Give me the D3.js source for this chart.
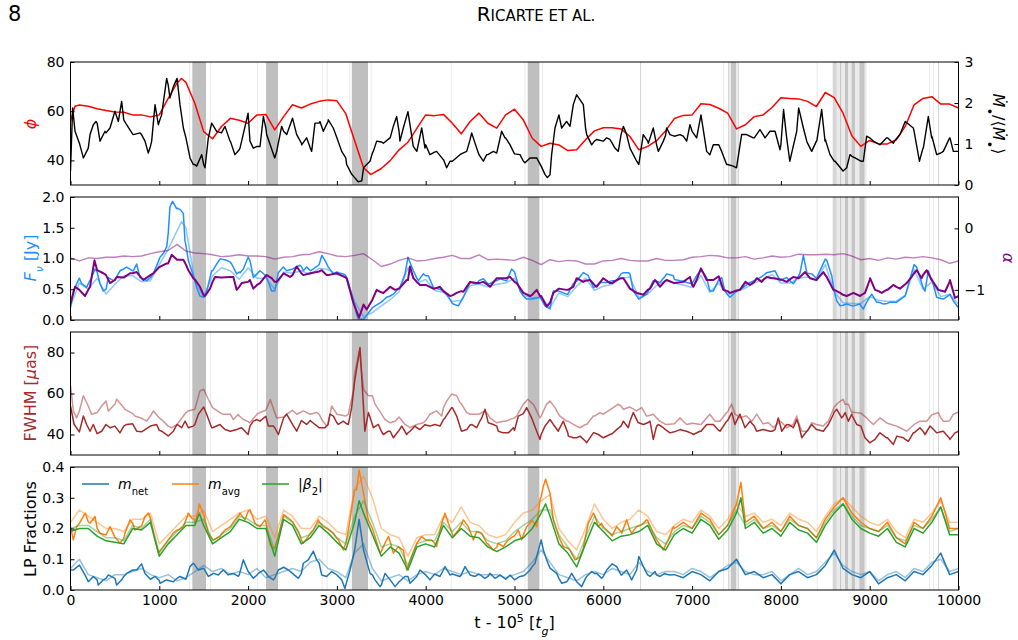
<!DOCTYPE html>
<html>
<head>
<meta charset="utf-8">
<script src="https://cdn.jsdelivr.net/npm/d3@7"></script>
<style>
  body { margin: 0; background: #fff; }
  svg text { font-family: "DejaVu Sans", sans-serif; }
</style>
</head>
<body>
<div id="chart"></div>
<script>
// sample times (t - 1e5, in t_g) every 100 t_g
const sampleTimes = d3.range(0, 10001, 100);

// Panel 1: phi (left, red) and Mdot / <Mdot> (right, black)
const phiVals = [56, 62.5, 62, 61, 60.3, 59.7, 59.6, 58.5, 58.5, 57.7,
  58.5, 65.2, 71.5, 71.7, 63.2, 51.7, 48.8, 53.8, 57.1, 56.3,
  55.1, 58.5, 58.7, 52.4, 57.8, 62.6, 61.3, 62.9, 64, 64.6,
  64.2, 59, 48, 37, 34.6, 36.7, 39.9, 44.3, 47.4, 53,
  58.5, 58.2, 58.7, 55.1, 50.8, 55.8, 59.2, 55.1, 53.1, 58.5,
  60.8, 56.4, 49, 45.7, 47, 46.3, 44, 44.3, 48.4, 52,
  53.3, 53.3, 52.8, 49.7, 44.3, 45.7, 48, 52, 57, 58.3,
  58.5, 63, 62.7, 61.2, 59.2, 52.8, 54.5, 57.8, 58.5, 61.5,
  65.5, 65.2, 65, 64, 61.9, 67.6, 65.5, 59.2, 49.9, 45.7,
  48.1, 46.7, 46.7, 48.4, 53.8, 62.6, 65.2, 65.9, 62.9, 62.9, 61.3];
const phiExtra = [[50, 62], [1250, 73.3], [3380, 34.3]];

const mdotVals = [0.34, 1.02, 0.90, 1.51, 1.27, 1.80, 1.59, 1.24, 1.23, 0.94,
  1.55, 2.44, 2.60, 1.15, 0.50, 0.50, 1.47, 1.27, 1.07, 0.86,
  1.75, 0.94, 1.39, 0.66, 1.31, 1.63, 1.02, 0.90, 1.51, 1.55,
  1.15, 0.66, 0.18, 0.42, 0.78, 1.05, 1.15, 1.31, 1.79, 0.82,
  0.98, 0.80, 0.62, 0.58, 0.76, 1.11, 0.74, 0.74, 0.78, 1.15,
  0.76, 0.58, 0.66, 0.46, 0.25, 1.71, 1.51, 2.20, 1.39, 1.07,
  1.07, 1.02, 1.23, 0.90, 0.50, 1.07, 0.98, 1.20, 1.19, 1.19,
  1.31, 1.71, 0.74, 0.98, 0.50, 0.42, 1.23, 1.15, 1.23, 1.31,
  0.98, 0.58, 1.88, 1.02, 1.07, 1.11, 0.58, 0.34, 0.70, 0.58,
  1.15, 1.00, 1.15, 1.13, 1.55, 1.31, 0.90, 1.19, 0.78, 1.15, 0.82];
const mdotExtra = [[24, 1.88], [51, 1.31], [145, 0.66], [182, 0.82], [220, 1.23], [257, 1.47], [287, 1.55],
  [332, 1.07], [389, 1.31], [445, 1.39], [539, 1.55], [576, 2.04], [632, 1.47], [708, 1.23], [783, 1.27],
  [839, 1.07], [876, 0.78], [914, 1.07], [952, 1.96], [989, 1.47], [1026, 1.71], [1083, 2.6], [1120, 2.12],
  [1158, 2.4], [1233, 1.96], [1271, 1.39], [1346, 0.66], [1383, 0.5], [1421, 0.46], [1477, 0.74], [1515, 0.42],
  [1552, 1.15], [1590, 1.51], [1646, 1.31], [1740, 1.43], [1796, 1.07], [1852, 0.74], [1909, 0.9], [2021, 1.07],
  [2059, 0.9], [2134, 0.94], [2172, 1.67], [2209, 1.23], [2322, 0.82], [2378, 1.43], [2435, 1.23], [2547, 1.23],
  [2603, 0.98], [2659, 1.15], [2716, 0.82], [2753, 1.51], [2809, 1.55], [2847, 1.31], [2903, 1.59], [2959, 1.39],
  [3054, 0.82], [3110, 0.5], [3167, 0.26], [3240, 0.08], [3280, 0.1], [3335, 0.5], [3373, 0.58], [3410, 0.82],
  [3448, 1.07], [3523, 1.02], [3598, 1.15], [3635, 1.43], [3673, 1.67], [3710, 1.07], [3748, 1.39], [3823, 1.47],
  [3860, 0.94], [3955, 1.39], [3992, 0.9], [4048, 0.74], [4123, 0.82], [4198, 0.62], [4236, 0.42], [4274, 0.58],
  [4386, 0.74], [4462, 0.82], [4518, 1.27], [4574, 0.9], [4649, 0.58], [4687, 0.74], [4762, 0.82], [4855, 1.31],
  [4893, 1.15], [4950, 0.98], [5062, 0.74], [5118, 0.54], [5175, 0.66], [5250, 0.66], [5343, 0.26], [5370, 0.18],
  [5418, 0.74], [5456, 1.39], [5531, 1.39], [5587, 1.55], [5625, 1.43], [5662, 1.96], [5775, 1.96], [5813, 1.23],
  [5869, 0.98], [5925, 1.11], [6038, 1.15], [6075, 1.11], [6131, 0.9], [6169, 0.82], [6226, 1.43], [6263, 1.23],
  [6376, 0.58], [6450, 1.23], [6507, 1.02], [6563, 1.39], [6620, 0.82], [6676, 1.07], [6714, 1.39], [6751, 1.23],
  [6864, 1.23], [6939, 1.07], [6976, 1.47], [7051, 1.15], [7164, 0.82], [7239, 0.98], [7333, 0.82], [7389, 0.5],
  [7464, 0.46], [7558, 1.23], [7614, 1.23], [7689, 1.15], [7764, 1.35], [7821, 1.15], [7877, 1.31], [7934, 1.31],
  [7990, 0.86], [8030, 1.84], [8065, 1.15], [8178, 1.31], [8253, 1.39], [8291, 1.07], [8347, 0.82], [8404, 1.07],
  [8459, 1.84], [8497, 1.07], [8553, 0.74], [8610, 0.58], [8741, 0.42], [8778, 0.74], [8835, 0.66], [8928, 0.58],
  [8966, 1.19], [9041, 1.07], [9116, 0.98], [9191, 1.15], [9266, 1.02], [9341, 1.23], [9491, 1.39], [9560, 0.58],
  [9604, 0.9], [9660, 1.67], [9698, 1.15], [9754, 0.74], [9829, 0.82], [9904, 1.15], [9942, 0.82]];

// Panel 2: F_nu (left, two blues) and alpha (right, two purples)
const fnuVals = [0.2, 0.68, 0.59, 0.78, 0.50, 0.65, 0.83, 0.80, 0.68, 0.69,
  0.99, 1.4, 1.82, 1.21, 0.64, 0.37, 0.80, 0.99, 0.94, 0.78,
  1.02, 0.75, 0.72, 0.47, 0.86, 0.83, 0.87, 0.80, 0.90, 0.87,
  0.78, 0.72, 0.26, 0.01, 0.20, 0.29, 0.39, 0.52, 1.02, 0.68,
  0.72, 0.52, 0.47, 0.27, 0.31, 0.61, 0.64, 0.59, 0.64, 0.64,
  0.78, 0.39, 0.34, 0.34, 0.18, 0.47, 0.42, 0.63, 0.75, 0.53,
  0.61, 0.64, 0.75, 0.75, 0.34, 0.45, 0.63, 0.72, 0.66, 0.63,
  0.59, 0.80, 0.47, 0.65, 0.41, 0.47, 0.56, 0.64, 0.72, 0.79,
  0.65, 0.64, 0.72, 0.76, 0.68, 0.99, 0.47, 0.24, 0.23, 0.23,
  0.37, 0.29, 0.27, 0.29, 0.39, 0.90, 0.53, 0.67, 0.35, 0.41, 0.20];
const fnuExtra = [[32, 0.47], [126, 0.59], [182, 0.53], [238, 0.69], [276, 0.83], [332, 0.59], [370, 0.47],
  [426, 0.69], [482, 0.64], [557, 0.8], [632, 0.86], [707, 0.8], [745, 0.91], [783, 0.69], [858, 0.64],
  [933, 0.75], [1008, 1.02], [1045, 1.08], [1083, 1.19], [1120, 1.84], [1150, 1.93], [1195, 1.81], [1240, 1.79],
  [1271, 1.73], [1289, 1.29], [1327, 0.97], [1365, 0.8], [1421, 0.53], [1458, 0.39], [1534, 0.47], [1590, 0.8],
  [1646, 0.91], [1684, 0.99], [1759, 0.97], [1815, 0.91], [1871, 0.75], [1909, 0.77], [1946, 0.83], [2021, 0.97],
  [2059, 0.69], [2134, 0.8], [2209, 0.69], [2265, 0.47], [2340, 0.77], [2397, 0.86], [2434, 0.8], [2584, 0.89],
  [2622, 0.8], [2659, 0.86], [2734, 0.83], [2791, 0.89], [2830, 1.05], [2866, 0.97], [2903, 0.86], [2960, 0.75],
  [3016, 0.77], [3072, 0.75], [3129, 0.61], [3185, 0.31], [3222, 0.09], [3240, 0.02], [3373, 0.15], [3485, 0.28],
  [3560, 0.37], [3635, 0.42], [3710, 0.53], [3767, 0.75], [3861, 0.8], [3917, 0.64], [3973, 0.75], [4030, 0.72],
  [4086, 0.53], [4161, 0.5], [4236, 0.42], [4311, 0.26], [4368, 0.23], [4424, 0.37], [4499, 0.61], [4574, 0.59],
  [4649, 0.67], [4724, 0.59], [4780, 0.64], [4837, 0.67], [4912, 0.64], [4968, 0.83], [5062, 0.47], [5137, 0.34],
  [5287, 0.37], [5343, 0.23], [5437, 0.47], [5587, 0.42], [5662, 0.59], [5719, 0.67], [5775, 0.77], [5831, 0.72],
  [5888, 0.53], [5963, 0.61], [6038, 0.61], [6150, 0.64], [6226, 0.77], [6282, 0.77], [6338, 0.47], [6488, 0.42],
  [6563, 0.64], [6638, 0.61], [6714, 0.75], [6789, 0.72], [6864, 0.64], [6939, 0.61], [7051, 0.72], [7089, 0.8],
  [7127, 0.77], [7164, 0.69], [7239, 0.47], [7295, 0.64], [7333, 0.69], [7370, 0.47], [7427, 0.37], [7577, 0.53],
  [7652, 0.61], [7709, 0.64], [7764, 0.69], [7840, 0.77], [7934, 0.8], [7990, 0.64], [8065, 0.69], [8140, 0.59],
  [8216, 0.77], [8253, 1.05], [8291, 0.77], [8347, 0.75], [8404, 0.69], [8516, 0.97], [8572, 0.72], [8629, 0.31],
  [8667, 0.23], [8741, 0.26], [8816, 0.23], [8891, 0.26], [8929, 0.18], [8966, 0.29], [9023, 0.42], [9078, 0.29],
  [9154, 0.26], [9229, 0.29], [9304, 0.29], [9379, 0.37], [9454, 0.67], [9529, 0.86], [9566, 0.69], [9623, 0.47],
  [9660, 0.8], [9698, 0.64], [9754, 0.37], [9829, 0.34], [9904, 0.42], [9942, 0.31]];

const fnuLightVals = [0.22, 0.6, 0.5, 0.68, 0.42, 0.58, 0.72, 0.72, 0.62, 0.64,
  0.9, 1.15, 1.45, 1.5, 0.62, 0.38, 0.72, 0.85, 0.8, 0.66,
  0.85, 0.68, 0.68, 0.5, 0.78, 0.76, 0.8, 0.74, 0.84, 0.82,
  0.74, 0.7, 0.3, 0.05, 0.12, 0.23, 0.33, 0.46, 0.85, 0.6,
  0.66, 0.48, 0.45, 0.3, 0.32, 0.56, 0.58, 0.54, 0.58, 0.6,
  0.68, 0.4, 0.36, 0.37, 0.2, 0.44, 0.38, 0.55, 0.68, 0.48,
  0.55, 0.58, 0.68, 0.7, 0.36, 0.42, 0.56, 0.64, 0.6, 0.57,
  0.53, 0.72, 0.45, 0.6, 0.42, 0.46, 0.52, 0.6, 0.66, 0.74,
  0.6, 0.6, 0.68, 0.7, 0.64, 0.9, 0.46, 0.28, 0.27, 0.27,
  0.38, 0.32, 0.3, 0.31, 0.4, 0.82, 0.5, 0.62, 0.38, 0.42, 0.26];
const fnuLightExtra = [[1250, 1.6]];

const alphaVals = [-1.22, -1.00, -1.00, -0.68, -0.76, -0.84, -0.80, -0.73, -0.81, -0.76,
  -0.63, -0.57, -0.51, -0.59, -0.83, -1.09, -0.87, -0.80, -0.79, -0.95,
  -0.87, -0.92, -0.77, -0.87, -0.73, -0.76, -0.73, -0.73, -0.70, -0.76,
  -0.73, -0.80, -1.27, -1.24, -1.16, -1.04, -0.95, -0.98, -0.84, -0.87,
  -0.92, -0.98, -1.02, -1.09, -1.02, -0.87, -0.89, -0.92, -0.81, -0.81,
  -0.87, -1.05, -1.08, -1.10, -1.21, -0.98, -1.00, -0.81, -0.85, -0.92,
  -0.81, -0.89, -0.81, -0.98, -1.06, -1.00, -0.87, -0.85, -0.89, -0.87,
  -0.92, -0.65, -0.84, -0.78, -1.02, -1.01, -0.87, -0.87, -0.84, -0.81,
  -0.83, -0.83, -0.81, -0.76, -0.84, -0.76, -1.00, -1.08, -1.06, -1.09,
  -0.84, -1.02, -1.00, -0.95, -0.91, -0.73, -0.76, -0.84, -1.01, -0.87, -1.10];
const alphaExtra = [[51, -0.95], [163, -1.1], [220, -0.95], [270, -0.52], [370, -0.73], [445, -0.89], [520, -0.79],
  [670, -0.73], [745, -0.71], [820, -0.84], [933, -0.73], [1083, -0.57], [1140, -0.43], [1271, -0.51],
  [1327, -0.68], [1383, -0.81], [1458, -0.95], [1515, -1.1], [1571, -0.98], [1627, -0.79], [1834, -0.79],
  [1871, -1.0], [1928, -0.89], [2021, -0.84], [2059, -0.98], [2134, -0.89], [2209, -0.76], [2265, -0.81],
  [2322, -0.87], [2472, -0.79], [2547, -0.62], [2622, -0.76], [2772, -0.71], [2829, -0.68], [2885, -0.76],
  [3110, -0.81], [3185, -1.21], [3250, -1.45], [3335, -1.32], [3448, -1.0], [3523, -1.05], [3655, -1.0],
  [3786, -0.84], [3823, -0.62], [3861, -0.81], [3936, -0.92], [4086, -0.98], [4161, -0.95], [4274, -1.1],
  [4349, -1.05], [4424, -1.03], [4574, -0.89], [4649, -0.87], [4724, -0.95], [4874, -0.81], [4950, -0.79],
  [5024, -0.89], [5175, -1.1], [5250, -1.0], [5287, -1.1], [5362, -1.27], [5437, -1.05], [5587, -1.0],
  [5662, -0.95], [5775, -0.87], [5850, -0.84], [5925, -0.95], [6075, -0.89], [6150, -0.84], [6226, -0.81],
  [6376, -1.05], [6451, -1.08], [6526, -0.98], [6582, -0.84], [6638, -0.95], [6714, -0.84], [6976, -0.79],
  [7014, -0.95], [7051, -0.84], [7164, -0.84], [7239, -0.84], [7352, -1.0], [7427, -1.05], [7539, -1.0],
  [7652, -0.92], [7727, -0.81], [7784, -0.87], [7840, -0.79], [7915, -0.81], [8065, -0.87], [8140, -0.79],
  [8272, -0.71], [8328, -0.81], [8478, -0.71], [8516, -0.79], [8591, -1.0], [8667, -1.05], [8741, -1.1],
  [8816, -1.05], [8891, -1.1], [8947, -1.05], [9004, -0.81], [9060, -1.0], [9135, -1.05], [9191, -1.0],
  [9266, -0.92], [9341, -0.98], [9416, -0.89], [9472, -0.79], [9529, -0.68], [9585, -0.81], [9642, -0.68],
  [9698, -0.84], [9773, -1.0], [9848, -1.03], [9904, -0.84], [9960, -1.13]];

const alphaLightVals = [-0.48, -0.53, -0.48, -0.49, -0.47, -0.47, -0.45, -0.46, -0.45, -0.41,
  -0.38, -0.36, -0.26, -0.37, -0.40, -0.41, -0.43, -0.46, -0.45, -0.43,
  -0.45, -0.45, -0.46, -0.50, -0.47, -0.46, -0.43, -0.42, -0.38, -0.41,
  -0.45, -0.46, -0.44, -0.41, -0.51, -0.62, -0.58, -0.52, -0.48, -0.53,
  -0.52, -0.49, -0.47, -0.44, -0.49, -0.49, -0.43, -0.51, -0.50, -0.51,
  -0.52, -0.47, -0.52, -0.59, -0.51, -0.54, -0.52, -0.53, -0.58, -0.58,
  -0.53, -0.52, -0.49, -0.52, -0.53, -0.53, -0.49, -0.52, -0.52, -0.51,
  -0.47, -0.46, -0.44, -0.45, -0.48, -0.48, -0.46, -0.50, -0.48, -0.45,
  -0.47, -0.46, -0.42, -0.43, -0.43, -0.42, -0.43, -0.41, -0.45, -0.51,
  -0.49, -0.52, -0.48, -0.50, -0.47, -0.48, -0.46, -0.48, -0.51, -0.57, -0.53];

// Panel 3: FWHM (two browns)
const fwhmVals = [54, 41.3, 43.3, 40.4, 44.9, 44.1, 44.1, 45.2, 41.3, 44.1,
  42, 39.3, 44.9, 45.7, 44.9, 53.4, 43.3, 44.1, 41.6, 42.9,
  40, 47.3, 48.9, 43.3, 48.1, 44.9, 46.8, 46.8, 43.3, 44.9,
  45.7, 45.5, 66, 53, 44.9, 41.6, 41.6, 42, 40.8, 43.3,
  44.6, 44.9, 47.3, 53.1, 42, 44.6, 45.7, 46.5, 44.1, 40.8,
  42, 50.2, 47.3, 40, 47.3, 42.4, 40.8, 38.4, 36.7, 40.8,
  38.4, 40.4, 44.1, 46.5, 45.7, 45.7, 44.1, 42.4, 41.3, 42,
  40.4, 41.6, 44.9, 42, 46.8, 46.5, 43.6, 44.1, 42.4, 41.6,
  43.3, 44.6, 44.9, 42, 42.4, 42.9, 51, 48.9, 49.4, 44.1,
  36, 40, 38.4, 38.7, 37.6, 40.8, 41.6, 43.3, 41.3, 38.1, 41.6];
const fwhmExtra = [[40, 45], [145, 49], [182, 44.9], [220, 41.6], [257, 44.9], [351, 41.6], [445, 43.3],
  [557, 40.8], [632, 44.9], [745, 41.6], [970, 44.9], [1026, 41.6], [1158, 41.6], [1252, 43.3], [1290, 46.5],
  [1327, 43.3], [1383, 44.1], [1440, 49.9], [1533, 49.9], [1590, 43.3], [1684, 44.9], [1740, 42.4], [1871, 42.4],
  [1927, 43.3], [2021, 44.1], [2059, 46.5], [2134, 46.5], [2228, 44.1], [2284, 44.1], [2341, 40], [2434, 49.9],
  [2547, 41.6], [2659, 44.9], [2753, 44.9], [2866, 43.3], [2922, 49.9], [2960, 49], [3016, 44.9], [3072, 46.5],
  [3129, 44.9], [3166, 53.1], [3260, 82.4], [3315, 41.6], [3355, 50.7], [3410, 43.3], [3467, 44.9], [3523, 40],
  [3579, 41.6], [3635, 38.4], [3692, 41.6], [3730, 44.1], [3786, 40], [3823, 41.6], [3880, 44.1], [3936, 42.4],
  [3992, 44.9], [4048, 44.1], [4105, 44.9], [4161, 44.1], [4217, 48.1], [4292, 53.1], [4349, 49], [4405, 41.6],
  [4462, 42.4], [4518, 44.9], [4574, 43.3], [4631, 48.1], [4668, 52.3], [4705, 45.7], [4762, 44.9], [4818, 41.6],
  [4874, 40.8], [4931, 40.8], [4987, 43.3], [5043, 49], [5137, 53.1], [5193, 48.1], [5250, 41.6], [5287, 37.6],
  [5343, 44.1], [5437, 44.9], [5494, 41.6], [5550, 46.5], [5606, 39.2], [5662, 38.4], [5738, 39.2], [5813, 36],
  [5888, 40.8], [5944, 40], [6075, 40], [6150, 42.4], [6226, 46.5], [6282, 43.3], [6338, 50.7], [6394, 45.7],
  [6451, 44.9], [6526, 46.5], [6563, 37.6], [6620, 44.9], [6676, 43.3], [6751, 40.8], [6864, 42.4], [6939, 41.6],
  [7014, 40], [7089, 41.6], [7164, 44.9], [7239, 44.9], [7314, 41.6], [7389, 46.5], [7446, 50.7], [7483, 44.9],
  [7539, 49.9], [7596, 43.3], [7652, 46.5], [7727, 41.6], [7802, 42.4], [7877, 41.6], [7934, 42.4], [7971, 48.1],
  [8009, 41.6], [8065, 44.9], [8140, 43.3], [8178, 47.3], [8235, 38.4], [8291, 41.6], [8347, 44.9], [8404, 42.4],
  [8478, 41.6], [8535, 44.9], [8591, 49.9], [8629, 52.3], [8685, 48.1], [8723, 50.7], [8760, 46.5], [8798, 49.9],
  [8854, 44.9], [8947, 38.4], [9004, 36], [9060, 37.6], [9116, 40.8], [9191, 38.4], [9266, 35.1], [9304, 39.2],
  [9379, 38.4], [9435, 36.7], [9491, 40.8], [9566, 43.3], [9623, 40], [9679, 44.1], [9754, 40.8], [9829, 41.6],
  [9904, 37.6], [9960, 40.8]];

const fwhmLightVals = [64, 51.5, 53.9, 50.7, 56.3, 54.8, 53.1, 50.2, 47.9, 49,
  48.1, 44.1, 44.9, 50.7, 52.3, 62.1, 53.1, 50.2, 49.9, 49,
  46.3, 49.9, 51.8, 50.7, 48.5, 51.8, 51, 49.9, 49.9, 44.9,
  49.9, 49, 69.7, 62, 58.9, 50.2, 45.7, 48.5, 44.1, 44.9,
  46.8, 51, 53.1, 59.6, 55.1, 49.9, 49.9, 49.9, 45.7, 46.5,
  48.1, 54.8, 55.1, 49, 56.3, 49.6, 46.5, 44.1, 44.9, 49,
  49.9, 52.8, 53.9, 53.4, 52.3, 49, 48.1, 44.9, 45.2, 46.5,
  45.5, 44.9, 49.9, 46.5, 51, 49.6, 49, 48.1, 45.2, 44.1,
  46.3, 44.1, 45.7, 41.6, 44.9, 45.2, 53.4, 57.2, 51, 50.4,
  46.5, 47.3, 45.5, 44.1, 42, 44.9, 46.5, 49.6, 48.1, 46.8, 51];
const fwhmLightExtra = [[32, 51.5], [69, 48.1], [145, 58.9], [238, 49.9], [351, 53.9], [426, 51.5], [520, 57.2],
  [614, 52.3], [726, 49], [858, 46.5], [933, 51.5], [1026, 47.3], [1139, 43.3], [1271, 49], [1327, 51.5],
  [1458, 61.3], [1552, 57.2], [1721, 49.9], [1834, 47.3], [1890, 49.9], [1946, 47.3], [2021, 45.7], [2134, 50.7],
  [2250, 57], [2322, 48.1], [2434, 49.9], [2547, 49.9], [2622, 51.5], [2772, 50.7], [2829, 47.3], [2885, 44.1],
  [2941, 53.9], [3129, 49.9], [3185, 61.3], [3253, 81], [3354, 58.9], [3429, 54.8], [3542, 47.3], [3655, 46.5],
  [3767, 44.9], [3823, 43.3], [3973, 45.7], [4048, 49.9], [4123, 51.5], [4180, 49], [4236, 56.3], [4292, 59.7],
  [4349, 58.9], [4386, 55.6], [4462, 50.7], [4668, 51.5], [4724, 48.1], [4874, 46.5], [5024, 49], [5150, 57.2],
  [5212, 54.8], [5287, 48.1], [5362, 54.8], [5456, 53.1], [5512, 49], [5587, 46.5], [5738, 43.3], [5813, 44.9],
  [5888, 49], [5963, 50.7], [6113, 53.1], [6169, 54.8], [6226, 52.3], [6376, 51.5], [6432, 53.1], [6488, 49],
  [6563, 49.9], [6638, 46.5], [6714, 44.9], [6864, 48.1], [6939, 44.9], [7258, 46.5], [7314, 46.5], [7389, 50.7],
  [7445, 54.8], [7483, 49.9], [7539, 48.1], [7614, 49], [7671, 46.5], [7727, 49.9], [7859, 45.7], [7915, 43.3],
  [7990, 46.5], [8065, 43.3], [8140, 44.9], [8178, 49], [8235, 41.6], [8347, 45.7], [8478, 44.1], [8535, 46.5],
  [8648, 55.6], [8723, 54.8], [8760, 54.8], [8798, 50.7], [8966, 48.1], [9041, 44.9], [9116, 48.1], [9191, 45.7],
  [9341, 43.3], [9416, 41.6], [9566, 46.5], [9642, 46.5], [9717, 49.9], [9773, 50.7], [9829, 46.5], [9885, 46.5],
  [9942, 49.9]];

// Panel 4: LP fractions
const mNetVals = [0.065, 0.081, 0.027, 0.033, 0.038, 0.038, 0.044, 0.065, 0.085, 0.035,
  0.031, 0.031, 0.038, 0.035, 0.081, 0.071, 0.052, 0.06, 0.052, 0.049,
  0.06, 0.049, 0.056, 0.038, 0.074, 0.054, 0.054, 0.109, 0.087, 0.049,
  0.049, 0.016, 0.13, 0.13, 0.049, 0.016, 0.033, 0.027, 0.044, 0.044,
  0.049, 0.052, 0.065, 0.052, 0.049, 0.049, 0.052, 0.044, 0.041, 0.035,
  0.033, 0.046, 0.076, 0.163, 0.071, 0.038, 0.031, 0.027, 0.038, 0.054,
  0.044, 0.085, 0.049, 0.044, 0.109, 0.049, 0.049, 0.052, 0.05, 0.04,
  0.06, 0.05, 0.03, 0.06, 0.07, 0.1, 0.05, 0.06, 0.04, 0.05,
  0.02, 0.05, 0.06, 0.04, 0.05, 0.08, 0.13, 0.07, 0.05, 0.04,
  0.06, 0.02, 0.04, 0.05, 0.03, 0.06, 0.05, 0.08, 0.12, 0.05, 0.06];
const mNetExtra = [[32, 0.065], [163, 0.049], [257, 0.044], [313, 0.016], [370, 0.033], [426, 0.049],
  [520, 0.016], [576, 0.033], [633, 0.054], [745, 0.065], [839, 0.054], [952, 0.044], [1008, 0.022],
  [1083, 0.033], [1158, 0.027], [1233, 0.044], [1346, 0.076], [1383, 0.087], [1440, 0.065], [1552, 0.044],
  [1609, 0.054], [1665, 0.049], [1721, 0.065], [1777, 0.049], [1834, 0.054], [1890, 0.044], [1946, 0.098],
  [2059, 0.038], [2115, 0.054], [2172, 0.065], [2228, 0.044], [2284, 0.033], [2340, 0.065], [2453, 0.065],
  [2566, 0.038], [2622, 0.087], [2678, 0.098], [2735, 0.126], [2772, 0.098], [2829, 0.049], [2885, 0.044],
  [2941, 0.06], [3054, 0.033], [3091, 0.005], [3148, 0.065], [3250, 0.23], [3373, 0.054], [3429, 0.033],
  [3486, 0.011], [3542, 0.054], [3655, 0.011], [3767, 0.044], [3823, 0.022], [3880, 0.038], [3936, 0.065],
  [4048, 0.033], [4161, 0.044], [4217, 0.076], [4274, 0.049], [4386, 0.044], [4443, 0.076], [4555, 0.044],
  [4668, 0.038], [4724, 0.054], [4780, 0.038], [4837, 0.049], [4950, 0.049], [5062, 0.044], [5118, 0.049],
  [5175, 0.065], [5231, 0.087], [5325, 0.13], [5362, 0.098], [5475, 0.054], [5531, 0.022], [5587, 0.027],
  [5644, 0.054], [5756, 0.011], [5813, 0.044], [5869, 0.06], [5925, 0.054], [5981, 0.038], [6038, 0.065],
  [6150, 0.076], [6207, 0.049], [6263, 0.065], [6319, 0.033], [6376, 0.065], [6469, 0.065], [6526, 0.044],
  [6582, 0.06], [6638, 0.044], [6695, 0.054], [6751, 0.049]];

const mNetLightVals = [0.07, 0.1, 0.05, 0.04, 0.03, 0.05, 0.05, 0.06, 0.07, 0.05,
  0.04, 0.05, 0.03, 0.04, 0.06, 0.08, 0.06, 0.07, 0.05, 0.06,
  0.05, 0.07, 0.04, 0.05, 0.06, 0.07, 0.06, 0.09, 0.1, 0.07,
  0.06, 0.04, 0.12, 0.15, 0.07, 0.03, 0.04, 0.05, 0.03, 0.05,
  0.06, 0.05, 0.07, 0.06, 0.05, 0.06, 0.05, 0.05, 0.05, 0.04,
  0.05, 0.06, 0.09, 0.13, 0.09, 0.05, 0.04, 0.03, 0.05, 0.06,
  0.05, 0.07, 0.06, 0.05, 0.09, 0.06, 0.05, 0.06, 0.06, 0.05,
  0.07, 0.06, 0.04, 0.06, 0.08, 0.09, 0.06, 0.05, 0.05, 0.06,
  0.03, 0.05, 0.07, 0.05, 0.06, 0.09, 0.12, 0.08, 0.06, 0.05,
  0.06, 0.03, 0.05, 0.06, 0.04, 0.07, 0.06, 0.09, 0.1, 0.06, 0.07];

const mAvgVals = [0.206, 0.217, 0.222, 0.2, 0.179, 0.172, 0.168, 0.217, 0.208, 0.233,
  0.125, 0.163, 0.195, 0.228, 0.228, 0.245, 0.165, 0.182, 0.206, 0.245,
  0.255, 0.212, 0.222, 0.139, 0.245, 0.222, 0.163, 0.185, 0.222, 0.198,
  0.168, 0.152, 0.326, 0.315, 0.2, 0.125, 0.157, 0.139, 0.076, 0.152,
  0.163, 0.152, 0.233, 0.182, 0.212, 0.19, 0.187, 0.15, 0.139, 0.152,
  0.176, 0.179, 0.226, 0.304, 0.315, 0.172, 0.136, 0.1, 0.174, 0.245,
  0.206, 0.176, 0.19, 0.195, 0.208, 0.226, 0.163, 0.146, 0.2, 0.22,
  0.2, 0.25, 0.23, 0.18, 0.21, 0.28, 0.22, 0.24, 0.2, 0.22,
  0.19, 0.24, 0.21, 0.2, 0.17, 0.23, 0.27, 0.3, 0.25, 0.22,
  0.2, 0.19, 0.22, 0.17, 0.15, 0.22, 0.2, 0.24, 0.3, 0.2, 0.2];
const mAvgExtra = [[32, 0.163], [69, 0.206], [165, 0.25], [220, 0.217], [276, 0.239], [332, 0.185],
  [445, 0.206], [557, 0.152], [614, 0.185], [670, 0.228], [726, 0.195], [783, 0.206], [839, 0.239],
  [877, 0.25], [933, 0.185], [989, 0.12], [1045, 0.141], [1158, 0.185], [1214, 0.195], [1271, 0.206],
  [1327, 0.25], [1365, 0.234], [1402, 0.217], [1440, 0.261], [1450, 0.28], [1515, 0.228], [1552, 0.185],
  [1609, 0.163], [1684, 0.174], [1740, 0.195], [1852, 0.228], [1909, 0.25], [1965, 0.228], [2021, 0.261],
  [2078, 0.217], [2134, 0.206], [2190, 0.228], [2247, 0.147], [2284, 0.136], [2340, 0.174], [2453, 0.234],
  [2566, 0.19], [2622, 0.152], [2678, 0.174], [2734, 0.195], [2791, 0.228], [2847, 0.206], [2960, 0.185],
  [3016, 0.163], [3072, 0.13], [3129, 0.195], [3222, 0.326], [3250, 0.39], [3354, 0.228], [3429, 0.174],
  [3486, 0.12], [3523, 0.141], [3580, 0.174], [3635, 0.12], [3692, 0.141], [3748, 0.13], [3786, 0.065],
  [3842, 0.109], [3955, 0.174], [4067, 0.163], [4123, 0.141], [4180, 0.217], [4217, 0.25], [4255, 0.217],
  [4311, 0.174], [4368, 0.195], [4424, 0.228], [4480, 0.206], [4537, 0.163], [4574, 0.19], [4630, 0.185],
  [4687, 0.152], [4762, 0.13], [4818, 0.152], [4874, 0.141], [4931, 0.163], [4987, 0.174], [5043, 0.195],
  [5081, 0.163], [5137, 0.206], [5250, 0.206], [5287, 0.293], [5325, 0.337], [5350, 0.36], [5437, 0.228],
  [5550, 0.141], [5625, 0.13], [5681, 0.098], [5738, 0.109], [5775, 0.136], [5831, 0.217], [5888, 0.25],
  [5944, 0.206], [5981, 0.217], [6038, 0.195], [6150, 0.206], [6207, 0.185], [6263, 0.228], [6319, 0.185],
  [6376, 0.206], [6432, 0.212], [6488, 0.228], [6545, 0.195], [6601, 0.163], [6676, 0.13], [6732, 0.163],
  [6789, 0.206], [7550, 0.35]];

const mAvgLightVals = [0.22, 0.26, 0.24, 0.22, 0.2, 0.2, 0.19, 0.23, 0.23, 0.25,
  0.15, 0.18, 0.21, 0.24, 0.24, 0.26, 0.19, 0.21, 0.23, 0.25,
  0.26, 0.23, 0.24, 0.17, 0.26, 0.24, 0.2, 0.2, 0.24, 0.22,
  0.19, 0.18, 0.33, 0.37, 0.3, 0.2, 0.18, 0.17, 0.11, 0.17,
  0.18, 0.18, 0.24, 0.22, 0.27, 0.22, 0.21, 0.18, 0.17, 0.18,
  0.22, 0.25, 0.26, 0.29, 0.31, 0.2, 0.16, 0.13, 0.2, 0.28,
  0.23, 0.2, 0.22, 0.23, 0.26, 0.24, 0.19, 0.18, 0.21, 0.23,
  0.22, 0.26, 0.24, 0.2, 0.23, 0.28, 0.24, 0.25, 0.22, 0.23,
  0.21, 0.25, 0.23, 0.22, 0.19, 0.24, 0.28, 0.3, 0.27, 0.24,
  0.22, 0.21, 0.23, 0.19, 0.17, 0.23, 0.22, 0.25, 0.29, 0.22, 0.22];

const beta2Vals = [0.19, 0.2, 0.2, 0.175, 0.16, 0.155, 0.15, 0.2, 0.195, 0.22,
  0.11, 0.15, 0.18, 0.21, 0.21, 0.21, 0.15, 0.17, 0.19, 0.23,
  0.22, 0.2, 0.2, 0.11, 0.23, 0.21, 0.15, 0.17, 0.21, 0.185,
  0.155, 0.13, 0.22, 0.25, 0.18, 0.11, 0.14, 0.12, 0.065, 0.14,
  0.15, 0.14, 0.21, 0.17, 0.2, 0.175, 0.17, 0.14, 0.125, 0.14,
  0.16, 0.17, 0.2, 0.25, 0.24, 0.15, 0.12, 0.075, 0.15, 0.22,
  0.19, 0.16, 0.175, 0.18, 0.19, 0.21, 0.15, 0.13, 0.18, 0.2,
  0.185, 0.23, 0.21, 0.165, 0.195, 0.25, 0.2, 0.22, 0.185, 0.2,
  0.175, 0.22, 0.195, 0.185, 0.155, 0.21, 0.25, 0.28, 0.23, 0.2,
  0.185, 0.175, 0.2, 0.155, 0.14, 0.2, 0.185, 0.22, 0.27, 0.18, 0.18];
const beta2Extra = [[1450, 0.25], [3250, 0.29], [5350, 0.28], [7550, 0.3]];

const beta2LightVals = [0.2, 0.21, 0.21, 0.19, 0.17, 0.17, 0.16, 0.21, 0.2, 0.23,
  0.12, 0.16, 0.19, 0.22, 0.22, 0.23, 0.16, 0.18, 0.2, 0.24,
  0.23, 0.21, 0.21, 0.13, 0.24, 0.22, 0.17, 0.18, 0.22, 0.2,
  0.17, 0.15, 0.24, 0.29, 0.22, 0.14, 0.15, 0.14, 0.08, 0.15,
  0.16, 0.16, 0.22, 0.19, 0.22, 0.19, 0.19, 0.16, 0.15, 0.16,
  0.19, 0.21, 0.23, 0.26, 0.26, 0.18, 0.14, 0.1, 0.17, 0.24,
  0.2, 0.18, 0.19, 0.2, 0.21, 0.22, 0.17, 0.15, 0.19, 0.21,
  0.2, 0.24, 0.22, 0.18, 0.21, 0.26, 0.21, 0.23, 0.2, 0.21,
  0.19, 0.23, 0.21, 0.2, 0.17, 0.22, 0.26, 0.28, 0.24, 0.21,
  0.2, 0.19, 0.21, 0.17, 0.16, 0.21, 0.2, 0.23, 0.27, 0.19, 0.2];

// grey flagged intervals (t_g) and how dark each one is
const shadeStart = [1335, 1372, 1571, 2100, 2202, 2829, 2885, 3140, 3168, 3380, 4282, 5110, 5149, 5310,
  6413, 7348, 7404, 7404, 7438, 7517, 8403, 8583, 8628, 8666, 8722, 8797, 8885, 9668, 9713, 9769];
const shadeEnd = [1347, 1526, 1583, 2112, 2337, 2841, 2897, 3152, 3350, 3392, 4294, 5122, 5280, 5322,
  6425, 7360, 7530, 7416, 7495, 7529, 8415, 8628, 8966, 8678, 8756, 8834, 8941, 9680, 9725, 9781];
const shadeLevel = [1, 3, 1, 1, 3, 1, 1, 1, 3, 1, 1, 1, 3, 1,
  2, 1, 1, 1, 2, 1, 1, 2, 1, 2, 2, 2, 2, 1, 1, 2];
const shadeAlpha = [0, 0.08, 0.16, 0.25];

const timeTicks = d3.range(0, 10001, 1000);

const width = 1018;
const height = 640;
const panelTop = [62, 197, 332, 467];
const panelH = 123;

const x = d3.scaleLinear().domain([0, 10000]).range([70.5, 958.5]);

const svg = d3.select('#chart')
  .append('svg')
  .attr('width', width)
  .attr('height', height);

function series(vals, extra) {
  return vals.map((v, i) => [sampleTimes[i], v])
    .concat(extra || [])
    .sort((a, b) => a[0] - b[0]);
}

function makePanel(i) {
  const top = panelTop[i];
  const g = svg.append('g');
  const clipId = 'clip' + i;
  svg.append('clipPath').attr('id', clipId)
    .append('rect')
    .attr('x', x(0)).attr('y', top)
    .attr('width', x(10000) - x(0)).attr('height', panelH);

  g.append('g').attr('clip-path', `url(#${clipId})`)
    .selectAll('rect')
    .data(shadeStart)
    .join('rect')
    .attr('x', (d) => x(d))
    .attr('width', (d, j) => Math.max(1, x(shadeEnd[j]) - x(d)))
    .attr('y', top)
    .attr('height', panelH)
    .attr('fill', '#000')
    .attr('fill-opacity', (d, j) => shadeAlpha[shadeLevel[j]]);

  const plot = g.append('g').attr('clip-path', `url(#${clipId})`);
  return { g, plot, top, bottom: top + panelH };
}

function drawLine(p, y, data, color, lw, opacity) {
  p.plot.append('path')
    .datum(data)
    .attr('fill', 'none')
    .attr('stroke', color)
    .attr('stroke-width', lw)
    .attr('stroke-opacity', opacity || 1)
    .attr('stroke-linejoin', 'round')
    .attr('d', d3.line().x((d) => x(d[0])).y((d) => y(d[1])));
}

function styleAxis(s) {
  s.select('.domain').remove();
  s.attr('font-size', 14).attr('font-family', '"DejaVu Sans", sans-serif');
  s.selectAll('line').attr('stroke', '#000');
}

function leftAxis(p, y, ticks, fmt) {
  p.g.append('g')
    .attr('transform', `translate(${x(0)},0)`)
    .call(d3.axisLeft(y).tickValues(ticks).tickFormat(fmt)
      .tickSizeInner(-4).tickSizeOuter(0).tickPadding(6))
    .call(styleAxis);
}

function rightAxis(p, y, ticks, fmt) {
  p.g.append('g')
    .attr('transform', `translate(${x(10000)},0)`)
    .call(d3.axisRight(y).tickValues(ticks).tickFormat(fmt)
      .tickSizeInner(-4).tickSizeOuter(0).tickPadding(6))
    .call(styleAxis);
}

function bottomAxis(p, withLabels) {
  p.g.append('g')
    .attr('transform', `translate(0,${p.bottom})`)
    .call(d3.axisBottom(x).tickValues(timeTicks)
      .tickFormat(withLabels ? d3.format('d') : () => '')
      .tickSizeInner(-4).tickSizeOuter(0).tickPadding(5))
    .call(styleAxis);
}

function frame(p) {
  p.g.append('rect')
    .attr('x', x(0)).attr('y', p.top)
    .attr('width', x(10000) - x(0)).attr('height', panelH)
    .attr('fill', 'none').attr('stroke', '#000').attr('stroke-width', 1);
}

function yLabel(xPos, yPos, angle, color, parts) {
  const t = svg.append('text')
    .attr('transform', `translate(${xPos},${yPos}) rotate(${angle})`)
    .attr('text-anchor', 'middle')
    .attr('font-size', 16)
    .attr('fill', color);
  parts.forEach((pt) => {
    const ts = t.append('tspan').text(pt.s);
    if (pt.it) ts.attr('font-style', 'italic');
    if (pt.sub) ts.attr('font-size', pt.size || 11).attr('baseline-shift', 'sub');
  });
  return t;
}

// ---------- panel 1 ----------
const p1 = makePanel(0);
const yPhi = d3.scaleLinear().domain([30, 80]).range([p1.bottom, p1.top]);
const yMdot = d3.scaleLinear().domain([0, 3]).range([p1.bottom, p1.top]);
drawLine(p1, yPhi, series(phiVals, phiExtra), '#ff0000', 1.5);
drawLine(p1, yMdot, series(mdotVals, mdotExtra), '#000000', 1.4);
leftAxis(p1, yPhi, [40, 60, 80], d3.format('d'));
rightAxis(p1, yMdot, [0, 1, 2, 3], d3.format('d'));
bottomAxis(p1, false);
frame(p1);

// ---------- panel 2 ----------
const p2 = makePanel(1);
const yFnu = d3.scaleLinear().domain([0, 2]).range([p2.bottom, p2.top]);
const yAlpha = d3.scaleLinear().domain([-1.49, 0.51]).range([p2.bottom, p2.top]);
drawLine(p2, yFnu, series(fnuLightVals, fnuLightExtra), '#1e90ff', 1.5, 0.5);
drawLine(p2, yFnu, series(fnuVals, fnuExtra), '#1e90ff', 1.5);
drawLine(p2, yAlpha, series(alphaLightVals), '#800080', 1.4, 0.5);
drawLine(p2, yAlpha, series(alphaVals, alphaExtra), '#800080', 2);
leftAxis(p2, yFnu, [0, 0.5, 1, 1.5, 2], d3.format('.1f'));
rightAxis(p2, yAlpha, [-1, 0], d3.format('d'));
bottomAxis(p2, false);
frame(p2);

// ---------- panel 3 ----------
const p3 = makePanel(2);
const yFwhm = d3.scaleLinear().domain([30, 90]).range([p3.bottom, p3.top]);
drawLine(p3, yFwhm, series(fwhmLightVals, fwhmLightExtra), '#a52a2a', 1.5, 0.5);
drawLine(p3, yFwhm, series(fwhmVals, fwhmExtra), '#a52a2a', 1.5);
leftAxis(p3, yFwhm, [40, 60, 80], d3.format('d'));
bottomAxis(p3, false);
frame(p3);

// ---------- panel 4 ----------
const p4 = makePanel(3);
const yLp = d3.scaleLinear().domain([0, 0.4]).range([p4.bottom, p4.top]);
drawLine(p4, yLp, series(mNetVals, mNetExtra), '#1f77b4', 1.5);
drawLine(p4, yLp, series(mAvgVals, mAvgExtra), '#ff7f0e', 1.5);
drawLine(p4, yLp, series(beta2Vals, beta2Extra), '#2ca02c', 1.5);
drawLine(p4, yLp, series(mNetLightVals), '#1f77b4', 1.5, 0.45);
drawLine(p4, yLp, series(mAvgLightVals), '#ff7f0e', 1.5, 0.45);
drawLine(p4, yLp, series(beta2LightVals), '#2ca02c', 1.5, 0.45);
leftAxis(p4, yLp, [0, 0.1, 0.2, 0.3, 0.4], d3.format('.1f'));
bottomAxis(p4, true);
frame(p4);

// legend
const legendItems = [
  { color: '#1f77b4', x: 82, parts: [{ s: 'm', it: true }, { s: 'net', sub: true }] },
  { color: '#ff7f0e', x: 172, parts: [{ s: 'm', it: true }, { s: 'avg', sub: true }] },
  { color: '#2ca02c', x: 262, parts: [{ s: '|' }, { s: 'β', it: true }, { s: '2', sub: true }, { s: '|' }] },
];
legendItems.forEach((d) => {
  svg.append('line')
    .attr('x1', d.x).attr('x2', d.x + 27)
    .attr('y1', 484).attr('y2', 484)
    .attr('stroke', d.color).attr('stroke-width', 1.5);
  const t = svg.append('text').attr('x', d.x + 36).attr('y', 489).attr('font-size', 14);
  d.parts.forEach((pt) => {
    const ts = t.append('tspan').text(pt.s);
    if (pt.it) ts.attr('font-style', 'italic');
    if (pt.sub) ts.attr('font-size', 10).attr('baseline-shift', 'sub');
  });
});

// axis labels
yLabel(36, 124, -90, '#ff0000', [{ s: 'ϕ', it: true }]);
yLabel(993, 124, 90, '#000', [{ s: 'Ṁ', it: true }, { s: '•', sub: true, size: 13 }, { s: '/⟨' },
  { s: 'Ṁ', it: true }, { s: '•', sub: true, size: 13 }, { s: '⟩' }]);
yLabel(36, 258, -90, '#1e90ff', [{ s: 'F', it: true }, { s: 'ν', it: true, sub: true }, { s: ' [Jy]' }]);
yLabel(1003, 258, 90, '#800080', [{ s: 'α', it: true }]);
yLabel(36, 393, -90, '#a52a2a', [{ s: 'FWHM [' }, { s: 'μ', it: true }, { s: 'as]' }]);
yLabel(36, 529, -90, '#000', [{ s: 'LP Fractions' }]);

const xl = svg.append('text')
  .attr('x', x(5000)).attr('y', 628)
  .attr('text-anchor', 'middle')
  .attr('font-size', 16);
xl.append('tspan').text('t - 10');
xl.append('tspan').text('5').attr('font-size', 11).attr('baseline-shift', 'super');
xl.append('tspan').text(' [');
xl.append('tspan').text('t').attr('font-style', 'italic');
xl.append('tspan').text('g').attr('font-style', 'italic').attr('font-size', 11).attr('baseline-shift', 'sub');
xl.append('tspan').text(']');

// page header
svg.append('text')
  .attr('x', 8).attr('y', 21)
  .attr('font-family', '"Liberation Serif", serif')
  .attr('font-size', 21)
  .text('8');
const head = svg.append('text')
  .attr('x', 536).attr('y', 21)
  .attr('text-anchor', 'middle')
  .attr('font-family', '"Liberation Serif", serif')
  .attr('font-size', 20);
head.append('tspan').text('R');
head.append('tspan').attr('font-size', 15).text('ICARTE ET AL.');
</script>
</body>
</html>
